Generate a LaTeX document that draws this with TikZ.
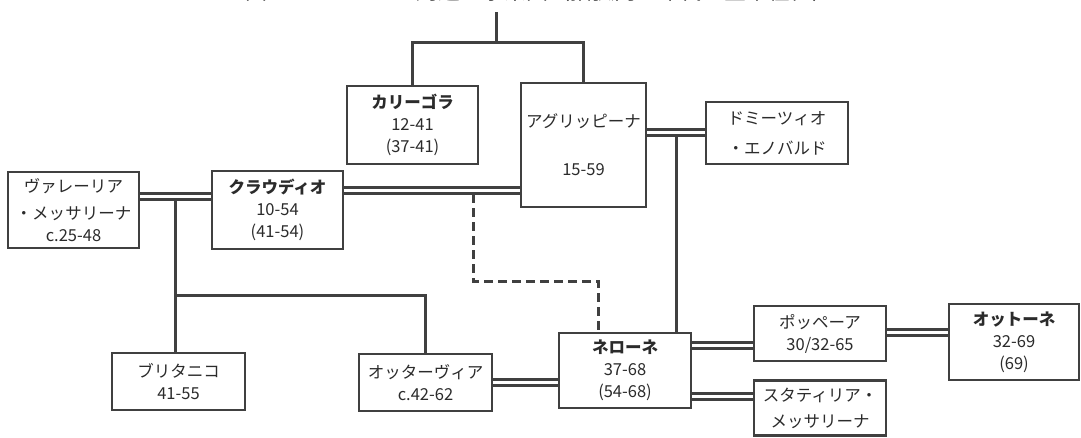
\documentclass[tikz,border=0pt]{standalone}
\usepackage{fontspec}
\newfontfamily\jp{Noto Sans CJK JP}
\definecolor{ink}{HTML}{404040}
\definecolor{txt}{HTML}{2B2B2B}
\begin{document}
\begin{tikzpicture}[x=1pt,y=-1pt,
  box/.style={draw=ink,line width=2.4pt,fill=white,inner sep=0pt,align=center,
    text=txt,font=\jp\fontsize{16.5}{22}\selectfont},
  conn/.style={draw=ink,line width=3pt},
  dbl/.style={draw=ink,line width=3pt,double=white,double distance=3pt},
  dsh/.style={draw=ink,line width=3pt,dash pattern=on 9pt off 5pt}]
\useasboundingbox (0,0) rectangle (1081,437);
% title (mostly cut off at the top, as in the reference)
\node[anchor=base,text=txt,font=\jp\fontsize{22}{26}\selectfont] (title) at (540,-1)
  {図 1　ネロとその周辺の家系図（括弧内の年代は皇帝在位）};
% boxes
\node[box,minimum width=131pt,minimum height=76pt] (val) at (73.5,210)
  {ヴァレーリア\\[5pt]・メッサリーナ\\c.25-48};
\node[box,minimum width=131pt,minimum height=78pt] (cla) at (277.5,210)
  {\textbf{クラウディオ}\\10-54\\(41-54)};
\node[box,minimum width=131pt,minimum height=78pt] (cal) at (412.5,125)
  {\textbf{カリーゴラ}\\12-41\\(37-41)};
\node[box,minimum width=125pt,minimum height=124pt] (agr) at (583.5,145)
  {アグリッピーナ\\[26pt]15-59};
\node[box,minimum width=142pt,minimum height=62pt] (dom) at (777,133)
  {ドミーツィオ\\[8pt]・エノバルド};
\node[box,minimum width=133pt,minimum height=57pt] (bri) at (178.5,381.5)
  {ブリタニコ\\41-55};
\node[box,minimum width=133pt,minimum height=57pt] (oct) at (425.5,382.5)
  {オッターヴィア\\c.42-62};
\node[box,minimum width=132pt,minimum height=75pt] (ner) at (625,370.5)
  {\textbf{ネローネ}\\37-68\\(54-68)};
\node[box,minimum width=132pt,minimum height=55pt] (pop) at (820,333.5)
  {ポッペーア\\30/32-65};
\node[box,minimum width=130pt,minimum height=76pt] (oto) at (1014,342)
  {\textbf{オットーネ}\\32-69\\(69)};
\node[box,minimum width=132pt,minimum height=55pt] (sta) at (820,408)
  {スタティリア・\\[4pt]メッサリーナ};
% coordinates
\coordinate (t) at (496,12);
\coordinate (tj) at (496,42);
\coordinate (ad) at (676,136);
\coordinate (vc) at (175,200);
\coordinate (kid) at (175,295);
\coordinate (ca) at (473,194);
\coordinate (dj) at (598,281);
% parents of Caligula and Agrippina
\draw[conn] (t) -- (tj);
\draw[conn] (cal.north) |- (tj) -| (agr.north);
% children of Claudius and Valeria
\draw[conn] (vc) -- (kid) -| (oct.north);
\draw[conn] (kid) -- (kid |- bri.north);
% Nero from Agrippina and Domitius
\draw[conn] (ad) -- (ad |- ner.north);
% adoption (dashed)
\draw[dsh] (ca) |- (dj) -- (dj |- ner.north);
% marriages
\draw[dbl] (val.east |- 0,196) -- (cla.west |- 0,196);
\draw[dbl] (cla.east |- 0,190) -- (agr.west |- 0,190);
\draw[dbl] (agr.east |- 0,132) -- (dom.west |- 0,132);
\draw[dbl] (oct.east |- 0,382) -- (ner.west |- 0,382);
\draw[dbl] (ner.east |- 0,345.5) -- (pop.west |- 0,345.5);
\draw[dbl] (pop.east |- 0,332.5) -- (oto.west |- 0,332.5);
\draw[dbl] (ner.east |- 0,396.5) -- (sta.west |- 0,396.5);
\end{tikzpicture}
\end{document}
